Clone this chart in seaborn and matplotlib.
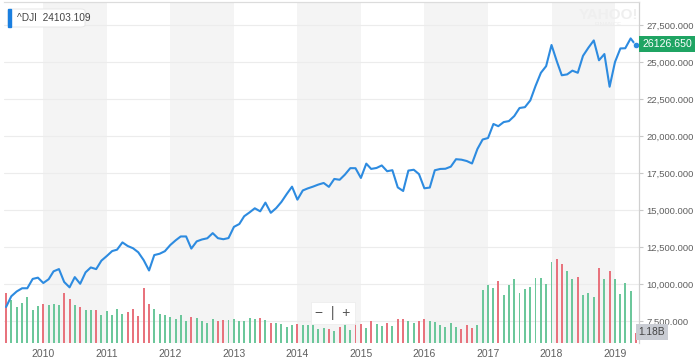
import numpy as np
import pandas as pd

import seaborn as sns
import matplotlib.pyplot as plt
from matplotlib.patches import FancyBboxPatch
from matplotlib.ticker import FuncFormatter


# monthly closes of ^DJI, Jun 2009 .. May 2019 (last one is the live value)
months = pd.date_range("2009-06-01", periods=120, freq="MS")

prev_close = 8500.33  # May 2009, only used to colour the first volume bar

closes = [
    8447.00, 9171.61, 9496.28, 9712.28, 9712.73, 10344.84, 10428.05,
    10067.33, 10325.26, 10856.63, 11008.61, 10136.63, 9774.02,
    10465.94, 10014.72, 10788.05, 11118.49, 11006.02, 11577.51,
    11891.93, 12226.34, 12319.73, 12810.54, 12569.79, 12414.34,
    12143.24, 11613.53, 10913.38, 11955.01, 12045.68, 12217.56,
    12632.91, 12952.07, 13212.04, 13213.63, 12393.45, 12880.09,
    13008.68, 13090.84, 13437.13, 13096.46, 13025.58, 13104.14,
    13860.58, 14054.49, 14578.54, 14839.80, 15115.57, 14909.60,
    15499.54, 14810.31, 15129.67, 15545.75, 16086.41, 16576.66,
    15698.85, 16321.71, 16457.66, 16580.84, 16717.17, 16826.60,
    16563.30, 17098.45, 17042.90, 17390.52, 17828.24, 17823.07,
    17164.95, 18132.70, 17776.12, 17840.52, 18010.68, 17619.51,
    17689.86, 16528.03, 16284.70, 17663.54, 17719.92, 17425.03,
    16466.30, 16516.50, 17685.09, 17773.64, 17787.20, 17929.99,
    18432.24, 18400.88, 18308.15, 18142.42, 19123.58, 19762.60,
    19864.09, 20812.24, 20663.22, 20940.51, 21008.65, 21349.63,
    21891.12, 21948.10, 22405.09, 23377.24, 24272.35, 24719.22,
    26149.39, 25029.20, 24103.11, 24163.15, 24415.84, 24271.41,
    25415.19, 25964.82, 26458.31, 25115.76, 25538.46, 23327.46,
    24999.67, 25916.00, 25928.68, 26592.91, 26126.65,
]

# monthly volume, billions of shares
volumes = [
    5.69, 4.93, 4.09, 4.55, 5.23, 3.78, 4.24,
    4.47, 4.32, 4.47, 4.32, 5.76, 5.01, 4.32, 4.09, 3.78, 3.78, 3.78, 3.24,
    3.70, 3.24, 3.86, 3.32, 3.55, 3.86, 3.09, 6.30, 4.47, 3.93, 3.32, 3.17,
    2.94, 2.71, 3.17, 2.55, 3.01, 2.86, 2.55, 2.26, 2.71, 2.49, 2.63, 2.63,
    2.78, 2.49, 2.55, 2.86, 2.71, 2.86, 2.63, 2.33, 2.33, 2.18, 1.87, 2.10,
    2.18, 2.10, 2.03, 2.03, 1.64, 1.72, 1.64, 1.41, 1.80, 2.41, 1.49, 2.33,
    2.18, 1.72, 2.49, 2.18, 1.95, 2.33, 1.95, 2.71, 2.71, 2.55, 2.33, 2.49,
    2.78, 2.49, 2.41, 2.03, 1.80, 2.33, 1.80, 1.64, 2.03, 1.72, 2.03, 6.07,
    6.61, 6.30, 7.07, 5.46, 6.68, 7.37, 5.69, 6.15, 6.45, 7.45, 7.45, 6.76,
    9.28, 9.66, 9.05, 8.21, 7.37, 7.53, 5.53, 5.76, 5.30, 8.59, 7.37, 8.28,
    7.30, 5.61, 6.91, 5.99, 1.18,
]

price_ticks = [7500, 10000, 12500, 15000, 17500, 20000, 22500, 25000, 27500]
year_ticks = list(range(2010, 2020))
shaded_years = [2010, 2012, 2014, 2016, 2018]

legend_label = "^DJI  24103.109"
last_label = "26126.650"
vol_label = "1.18B"

df = pd.DataFrame({"date": months, "close": closes, "volume": volumes})
change = np.diff(np.r_[prev_close, df["close"].to_numpy()])
df["up"] = change >= 0

LINE = "#2d8be0"
GREEN = "#6cc79b"
RED = "#e8737d"
GRID = "#ececec"
TEXT = "#5f5f5f"

sns.set_theme(style="white")
plt.rcParams["font.family"] = ["Liberation Sans", "DejaVu Sans"]

W, H = 696, 360
fig = plt.figure(figsize=(W / 100, H / 100), dpi=100)


def fx(px):
    return px / W


def fy(py):
    return 1 - py / H


rect = [fx(4), fy(343), fx(639) - fx(4), fy(2) - fy(343)]
ax_vol = fig.add_axes(rect)
ax = ax_vol.twinx()

x_lo = pd.Timestamp("2009-05-20")
x_hi = pd.Timestamp("2019-05-19")

# background bands for every other year
for yr in shaded_years:
    ax_vol.axvspan(
        pd.Timestamp(f"{yr}-01-01"), pd.Timestamp(f"{yr + 1}-01-01"),
        color="#f4f4f4", lw=0, zorder=0
    )

# volume bars
bar_colors = np.where(df["up"], GREEN, RED)
ax_vol.bar(
    df["date"], df["volume"], width=11,
    color=bar_colors, linewidth=0, zorder=2
)
ax_vol.set_ylim(0, 39.06)
ax_vol.set_yticks([])
ax_vol.set_xlim(x_lo, x_hi)

# horizontal grid drawn in the volume axes so it sits behind everything
lo, hi = 6014, 29054
for t in price_ticks:
    ax_vol.axhline(
        (t - lo) / (hi - lo) * 39.06, color=GRID, lw=0.8, zorder=1
    )

# year labels live on the bottom axes (the twin hides its x labels)
ax_vol.set_xticks([pd.Timestamp(f"{y}-01-01") for y in year_ticks])
ax_vol.set_xticklabels([str(y) for y in year_ticks])
ax_vol.tick_params(
    axis="x", length=0, pad=4, labelsize=7.5, labelcolor=TEXT,
    labelbottom=True
)

# price line
sns.lineplot(
    data=df, x="date", y="close", ax=ax,
    color=LINE, linewidth=1.5, zorder=5
)
ax.scatter(
    df["date"].iloc[-1], df["close"].iloc[-1],
    s=22, color=LINE, zorder=6, edgecolor="white", linewidth=0.6
)
ax.set_ylim(lo, hi)
ax.set_xlim(x_lo, x_hi)
ax.set_yticks(price_ticks)
ax.yaxis.set_major_formatter(FuncFormatter(lambda v, p: f"{v:,.3f}"))
ax.tick_params(
    axis="y", right=True, length=3, width=0.8, color="#c8c8c8",
    pad=2.5, labelsize=6.8, labelcolor=TEXT
)
ax.set_ylabel("")
ax.set_xlabel("")

for a in (ax, ax_vol):
    for side in ("left", "bottom"):
        a.spines[side].set_visible(False)
    a.spines["top"].set_color("#dcdcdc")
    a.spines["right"].set_color("#d0d0d0")
    a.spines["top"].set_linewidth(0.8)
    a.spines["right"].set_linewidth(0.8)

# hover legend box, top left: white rounded box with a blue bar on its left edge
fig.patches.append(FancyBboxPatch(
    (fx(8), fy(27)), fx(85) - fx(8), fy(9) - fy(27),
    boxstyle="round,pad=0,rounding_size=0.006",
    transform=fig.transFigure, fc="white", ec="#e4e4e4", lw=0.6, zorder=9
))
fig.patches.append(plt.Rectangle(
    (fx(8), fy(27)), fx(3), fy(9) - fy(27), transform=fig.transFigure,
    color="#1a7fe0", zorder=10
))
fig.text(
    fx(17), fy(18), legend_label, fontsize=7.3, color="#444444",
    va="center", ha="left", zorder=11
)

# yahoo watermark
fig.text(fx(608), fy(15), "YAHOO!", fontsize=11, color="#efefef",
         ha="center", va="center", fontweight="bold")
fig.text(fx(608), fy(25), "FINANCE", fontsize=4.5, color="#ececec",
         ha="center", va="center")

# last price tag
fig.text(
    fx(667), fy(44), last_label, fontsize=7.6, color="white",
    ha="center", va="center",
    bbox=dict(boxstyle="square,pad=0.25", fc="#1fa463", ec="none")
)

# last volume tag
fig.text(
    fx(652), fy(332), vol_label, fontsize=7.4, color="#444444",
    ha="center", va="center",
    bbox=dict(boxstyle="square,pad=0.25", fc="#c9ccd3", ec="none")
)

# zoom control
fig.text(
    fx(333), fy(313), "\u2212  |  +", fontsize=10, color="#555555",
    ha="center", va="center",
    bbox=dict(boxstyle="square,pad=0.3", fc="white", ec="#eeeeee", lw=0.6)
)

plt.savefig("out.png", dpi=100)
plt.close()
